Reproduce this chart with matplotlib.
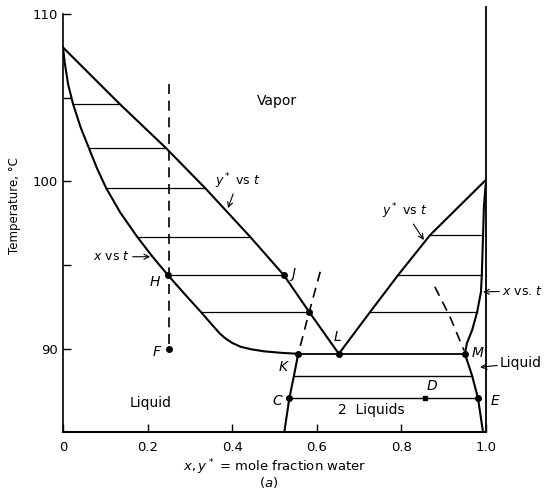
import matplotlib
matplotlib.use("Agg")
import matplotlib.pyplot as plt

# liquid (x vs t) and vapour (y* vs t) curves, isobutanol-rich side
liq_left_x = [0.0, 0.004, 0.012, 0.024, 0.042, 0.061, 0.080, 0.102, 0.135, 0.175,
              0.210, 0.248, 0.290, 0.326, 0.350, 0.371, 0.385, 0.400, 0.420,
              0.445, 0.475, 0.515, 0.556]
liq_left_t = [108.0, 107.1, 105.8, 104.6, 103.2, 102.0, 100.8, 99.6, 98.15, 96.7,
              95.55, 94.4, 93.2, 92.2, 91.5, 90.9, 90.6, 90.35, 90.12,
              89.97, 89.85, 89.76, 89.7]
vap_left_x = [0.0, 0.135, 0.243, 0.336, 0.442, 0.522, 0.582, 0.652]
vap_left_t = [108.0, 104.6, 102.0, 99.6, 96.7, 94.4, 92.2, 89.7]

# water-rich side
vap_right_x = [0.652, 0.726, 0.792, 0.868, 1.0]
vap_right_t = [89.7, 92.2, 94.4, 96.8, 100.1]
liq_right_x = [1.0, 0.995, 0.993, 0.990, 0.988, 0.979, 0.967, 0.955, 0.950]
liq_right_t = [100.1, 98.5, 96.8, 94.4, 93.4, 92.2, 91.1, 90.35, 89.7]

# two-liquid region boundaries
sol_left_x = [0.556, 0.546, 0.535, 0.523]
sol_left_t = [89.7, 88.4, 87.05, 85.0]
sol_right_x = [0.950, 0.967, 0.981, 0.993]
sol_right_t = [89.7, 88.4, 87.05, 85.0]

# tie lines
tie_t_left = [104.6, 102.0, 99.6, 96.7, 94.4, 92.2]
tie_xl_left = [0.024, 0.061, 0.102, 0.175, 0.248, 0.326]
tie_xv_left = [0.135, 0.243, 0.336, 0.442, 0.522, 0.582]
tie_t_right = [96.8, 94.4, 92.2]
tie_xv_right = [0.868, 0.792, 0.726]
tie_xl_right = [0.993, 0.990, 0.979]
tie_t_low = [88.4, 87.05]
tie_xl_low = [0.546, 0.535]
tie_xr_low = [0.967, 0.981]
three_phase_t = 89.7
three_phase_x = [0.556, 0.950]

# dashed lines
feed_x = [0.25, 0.25]
feed_t = [105.8, 90.0]
dash_l_x = [0.608, 0.582, 0.556]
dash_l_t = [94.6, 92.2, 89.7]
dash_r_x = [0.879, 0.915, 0.948]
dash_r_t = [93.7, 91.9, 89.9]

# labelled points
pt_names = ['H', 'J', 'F', 'K', 'L', 'M', 'C', 'E', '']
pt_x = [0.248, 0.522, 0.25, 0.556, 0.652, 0.950, 0.535, 0.981, 0.582]
pt_t = [94.4, 94.4, 90.0, 89.7, 89.7, 89.7, 87.05, 87.05, 92.2]
lab_x = [0.217, 0.544, 0.222, 0.52, 0.650, 0.979, 0.506, 1.021]
lab_t = [94.0, 94.45, 89.8, 88.9, 90.7, 89.76, 86.9, 86.9]
d_x, d_t = 0.856, 87.05

fig = plt.figure(figsize=(5.49, 4.94), dpi=100)
ax = fig.add_axes([0.1148, 0.1245, 0.7705, 0.8472])
ax.set_xlim(0, 1.0)
ax.set_ylim(85, 110)

lw = 1.5
ax.plot(liq_left_x, liq_left_t, 'k-', lw=lw)
ax.plot(vap_left_x, vap_left_t, 'k-', lw=lw)
ax.plot(vap_right_x, vap_right_t, 'k-', lw=lw)
ax.plot(liq_right_x, liq_right_t, 'k-', lw=lw)
ax.plot(sol_left_x, sol_left_t, 'k-', lw=lw)
ax.plot(sol_right_x, sol_right_t, 'k-', lw=lw)
ax.plot(three_phase_x, [three_phase_t] * 2, 'k-', lw=1.3)
ax.plot([1.0, 1.0], [85, 110.4], 'k-', lw=1.3, clip_on=False)

for t, a, b in zip(tie_t_left, tie_xl_left, tie_xv_left):
    ax.plot([a, b], [t, t], 'k-', lw=0.9)
for t, a, b in zip(tie_t_right, tie_xv_right, tie_xl_right):
    ax.plot([a, b], [t, t], 'k-', lw=0.9)
for t, a, b in zip(tie_t_low, tie_xl_low, tie_xr_low):
    ax.plot([a, b], [t, t], 'k-', lw=1.0)

for xs, ts in [(feed_x, feed_t), (dash_l_x, dash_l_t), (dash_r_x, dash_r_t)]:
    ax.plot(xs, ts, 'k--', lw=1.2, dashes=(6, 4))

ax.plot(pt_x, pt_t, 'ko', ms=4)
ax.plot([d_x], [d_t], 'ks', ms=3.5)

for name, x, t in zip(pt_names, lab_x, lab_t):
    ax.text(x, t, name, style='italic', fontsize=10, ha='center', va='center')
ax.text(0.873, 87.75, 'D', style='italic', fontsize=10, ha='center', va='center')

ax.text(0.506, 104.8, 'Vapor', fontsize=10, ha='center', va='center')
ax.text(0.206, 86.75, 'Liquid', fontsize=10, ha='center', va='center')
ax.text(0.729, 86.35, '2  Liquids', fontsize=10, ha='center', va='center')

ap = dict(arrowstyle='->', lw=0.8, color='k', shrinkA=0, shrinkB=0)
ax.annotate(r'$y^*$ vs $t$', xy=(0.39, 98.4), xytext=(0.413, 100.0),
            fontsize=9, ha='center', va='center', arrowprops=ap)
ax.annotate(r'$x$ vs $t$', xy=(0.206, 95.5), xytext=(0.071, 95.5),
            fontsize=9, ha='left', va='center', arrowprops=ap)
ax.annotate(r'$y^*$ vs $t$', xy=(0.853, 96.5), xytext=(0.809, 98.2),
            fontsize=9, ha='center', va='center', arrowprops=ap)
ax.annotate(r'$x$ vs. $t$', xy=(0.993, 93.4), xytext=(1.038, 93.45),
            fontsize=9, ha='left', va='center', arrowprops=ap, annotation_clip=False)
ax.annotate('Liquid', xy=(0.986, 88.9), xytext=(1.033, 89.15),
            fontsize=10, ha='left', va='center', arrowprops=ap, annotation_clip=False)

ax.spines['top'].set_visible(False)
ax.spines['right'].set_visible(False)
ax.spines['left'].set_linewidth(1.2)
ax.spines['bottom'].set_linewidth(1.5)

ax.set_xticks([0, 0.2, 0.4, 0.6, 0.8, 1.0])
ax.set_xticklabels(['0', '0.2', '0.4', '0.6', '0.8', '1.0'])
ax.set_yticks([90, 100, 110])
ax.set_yticks([95, 105], minor=True)
ax.tick_params(axis='both', which='both', direction='in', length=6, width=1.0,
               labelsize=9.5, color='k')
ax.tick_params(axis='x', pad=6)

fig.text(15 / 549, 1 - 206 / 494, 'Temperature, °C', fontsize=8.5,
         rotation=90, ha='center', va='center')
fig.text(0.50, 0.055, r'$x, y^*$ = mole fraction water', fontsize=9.5,
         ha='center', va='center')
fig.text(0.49, 0.023, r'($a$)', fontsize=9.5, ha='center', va='center')

fig.savefig('out.png', dpi=100)
